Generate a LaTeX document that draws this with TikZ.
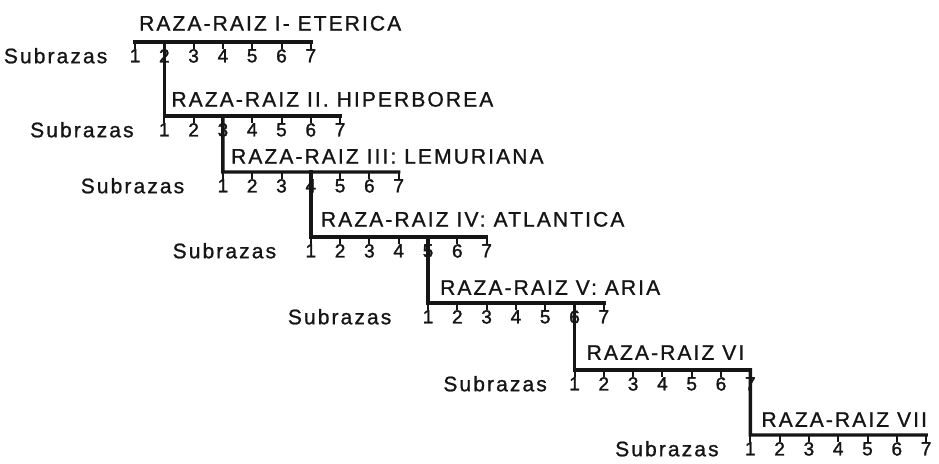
\documentclass[tikz,border=0pt]{standalone}
\usepackage{fontspec}
\setmainfont{Liberation Sans}
\newfontfamily\labelFont[LetterSpace=10,FakeBold=1]{Liberation Sans}
\newfontfamily\numFont[FakeBold=1.5]{Liberation Sans}
\usepackage{tikz}
\usetikzlibrary{positioning}
\definecolor{inkBlack}{HTML}{151515}

\begin{document}
\begin{tikzpicture}[x=1pt,y=-1pt,node distance=28pt,inkBlack]
  \tikzstyle{raceLine}=[draw=inkBlack,line width=3.4pt,line cap=rect,line join=miter]
  \tikzstyle{tickLine}=[draw=inkBlack,line width=2pt]
  \tikzstyle{raceLabel}=[inner sep=0pt,font=\labelFont\fontsize{21}{22}\selectfont]
  \tikzstyle{subLabel}=[inner sep=0pt,font=\labelFont\fontsize{21}{22}\selectfont]
  \tikzstyle{subNum}=[inner sep=0pt,anchor=north,font=\numFont\fontsize{19}{19}\selectfont]
  \fill[white] (0,0) rectangle (939,463);
  \useasboundingbox (0,0) rectangle (939,463);
  % subrace ticks and numbers of each root race
  \foreach \rc/\x/\y in {1/135/42,2/164.3/116,3/222.9/172,4/310.8/237,5/428/303,6/574.5/370,7/750.3/435}{
    \foreach \sn in {1,...,7}{
      \coordinate (r\rc s\sn) at ({\x+29.3*(\sn-1)},\y);
      \node[subNum] (n\rc s\sn) at ({\x+29.3*(\sn-1)},{\y+7}) {\sn};
      \draw[tickLine] (r\rc s\sn) -- (n\rc s\sn.north);
    }
  }
  % root race lines, each one branching off the race before
  \draw[raceLine] (r1s1) -- (r1s7);
  \draw[raceLine] (r1s2) -- (r2s1) -- (r2s7);
  \draw[raceLine] (r2s3) -- (r3s1) -- (r3s7);
  \draw[raceLine] (r3s4) -- (r4s1) -- (r4s7);
  \draw[raceLine] (r4s5) -- (r5s1) -- (r5s7);
  \draw[raceLine] (r5s6) -- (r6s1) -- (r6s7);
  \draw[raceLine] (r6s7) -- (r7s1) -- (r7s7);
  % race names
  \node[raceLabel,above right=11pt and 4pt of r1s1] (race1) {RAZA-RAIZ I- ETERICA};
  \node[raceLabel,above right=9pt and 7pt of r2s1] (race2) {RAZA-RAIZ II. HIPERBOREA};
  \node[raceLabel,above right=8pt and 8pt of r3s1] (race3) {RAZA-RAIZ III: LEMURIANA};
  \node[raceLabel,above right=10pt and 10pt of r4s1] (race4) {RAZA-RAIZ IV: ATLANTICA};
  \node[raceLabel,above right=8pt and 12pt of r5s1] (race5) {RAZA-RAIZ V: ARIA};
  \node[raceLabel,above right=10pt and 12pt of r6s1] (race6) {RAZA-RAIZ VI};
  \node[raceLabel,above right=8pt and 11pt of r7s1] (race7) {RAZA-RAIZ VII};
  % subrace captions
  \node[subLabel,left=22pt of n1s1] (sub1) {Subrazas};
  \node[subLabel,left=25pt of n2s1] (sub2) {Subrazas};
  \node[subLabel,left=33pt of n3s1] (sub3) {Subrazas};
  \node[subLabel,left=29pt of n4s1] (sub4) {Subrazas};
  \node[subLabel,left=31pt of n5s1] (sub5) {Subrazas};
  \node[subLabel,left=22pt of n6s1] (sub6) {Subrazas};
  \node[subLabel,left=26pt of n7s1] (sub7) {Subrazas};
\end{tikzpicture}
\end{document}
